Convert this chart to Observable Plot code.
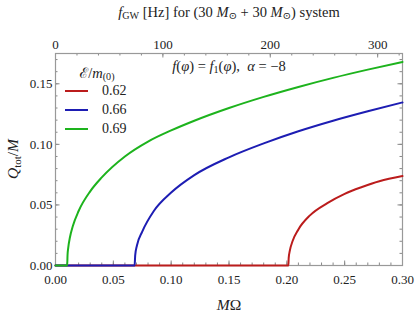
<!DOCTYPE html>
<html>
<head>
<meta charset="utf-8">
<script src="https://cdn.jsdelivr.net/npm/d3@7"></script>
<script src="https://cdn.jsdelivr.net/npm/@observablehq/plot@0.6"></script>
<style>
  body { margin: 0; background: #fff; }
  #wrap { position: relative; width: 415px; height: 320px; font-family: "Liberation Serif", "Times New Roman", Tinos, "DejaVu Serif", "Noto Serif", serif; color: #222; }
  #wrap svg { position: absolute; left: 0; top: 0; }
  .ov { position: absolute; white-space: nowrap; line-height: 1; }
  .c { transform: translate(-50%, -50%); }
  .i { font-style: italic; }
  sub { font-size: 70%; vertical-align: -0.25em; line-height: 0; }
  .sw { position: absolute; width: 23px; height: 0; border-top: 2px solid; }
</style>
</head>
<body>
<div id="wrap"></div>
<script>
// ---- data ----
const seriesLabels = ["0.62", "0.66", "0.69"];          // E/m_(0)
const seriesColors = ["#bb1c1c", "#1d1db3", "#1db31d"];

const x062 = [0, 0.2013, 0.2016, 0.2025, 0.205, 0.21, 0.22, 0.235, 0.25, 0.265, 0.28, 0.30];
const q062 = [0, 0, 0.0061, 0.0118, 0.0202, 0.0298, 0.0414, 0.0515, 0.0592, 0.0648, 0.0695, 0.0738];

const x066 = [0, 0.0684, 0.0689, 0.0704, 0.075, 0.085, 0.10, 0.12, 0.15, 0.18, 0.21, 0.24, 0.27, 0.30];
const q066 = [0, 0, 0.0084, 0.0165, 0.028, 0.045, 0.0602, 0.0746, 0.0893, 0.1008, 0.1108, 0.1195, 0.1273, 0.1346];

const x069 = [0, 0.0101, 0.0104, 0.0110, 0.0125, 0.015, 0.02, 0.03, 0.04, 0.06, 0.08, 0.10, 0.12, 0.15, 0.18, 0.21, 0.24, 0.27, 0.30];
const q069 = [0, 0, 0.0085, 0.0146, 0.0233, 0.0326, 0.045, 0.0612, 0.0727, 0.090, 0.1023, 0.1115, 0.1195, 0.1300, 0.1392, 0.1474, 0.1549, 0.1617, 0.168];

const xTicks = [0, 0.05, 0.10, 0.15, 0.20, 0.25, 0.30];
const yTicks = [0, 0.05, 0.10, 0.15];
const hzTicks = [0, 100, 200, 300];

// f_GW = M*Omega / (pi * M), M = 60 solar masses (in seconds)
const HZ_PER_MOMEGA = 1 / (Math.PI * 60 * 4.925491e-6);

// ---- build ----
const xs = [x062, x066, x069], qs = [q062, q066, q069];
const series = seriesLabels.map((s, k) => xs[k].map((x, i) => ({s, x, q: qs[k][i]})));

const W = 415, H = 320, mL = 55, mR = 13, mT = 53, mB = 55;
const fh = H - mT - mB, fw = W - mL - mR;
const xMinor = d3.range(0, 0.3001, 0.01);
const yMinor = d3.range(0, 0.1751, 0.01);
const hzMinor = d3.range(0, 321, 20).map(h => h / HZ_PER_MOMEGA);
const tickCol = "#888";
const FONT = "'Liberation Serif', 'Times New Roman', Tinos, 'DejaVu Serif', 'Noto Serif', serif";

const marks = [
  Plot.ruleX(xMinor, {x: d => d, insetTop: fh - 2.5, stroke: tickCol}),
  Plot.ruleX(xTicks, {x: d => d, insetTop: fh - 4.5, stroke: tickCol}),
  Plot.ruleX(hzMinor, {x: d => d, insetBottom: fh - 2.5, stroke: tickCol}),
  Plot.ruleX(hzTicks.map(h => h / HZ_PER_MOMEGA), {x: d => d, insetBottom: fh - 4.5, stroke: tickCol}),
  Plot.ruleY(yMinor, {y: d => d, insetRight: fw - 2.5, stroke: tickCol}),
  Plot.ruleY(yTicks, {y: d => d, insetRight: fw - 4.5, stroke: tickCol}),
  Plot.ruleY(yMinor, {y: d => d, insetLeft: fw - 2.5, stroke: tickCol}),
  Plot.ruleY(yTicks, {y: d => d, insetLeft: fw - 4.5, stroke: tickCol}),
  Plot.frame({stroke: "#999", strokeWidth: 1.2}),
  Plot.axisX({ticks: xTicks, tickSize: 0, tickPadding: 9, tickFormat: d3.format(".2f"), label: null, fontSize: 13, fontFamily: FONT}),
  Plot.axisX({anchor: "top", ticks: hzTicks.map(h => h / HZ_PER_MOMEGA), tickSize: 0, tickPadding: 5,
              tickFormat: (d) => String(Math.round(d * HZ_PER_MOMEGA)), label: null, fontSize: 13, fontFamily: FONT}),
  Plot.axisY({ticks: yTicks, tickSize: 0, tickPadding: 3, tickFormat: d3.format(".2f"), label: null, fontSize: 13, fontFamily: FONT}),
];
series.forEach((rows, k) => {
  marks.push(Plot.line(rows, {x: "x", y: "q", stroke: seriesColors[k], strokeWidth: 2, curve: "monotone-x"}));
});

const chart = Plot.plot({
  width: W, height: H,
  marginLeft: mL, marginRight: mR, marginTop: mT, marginBottom: mB,
  style: {fontFamily: FONT, fontSize: "13px", color: "#222", background: "white"},
  x: {domain: [0, 0.3]},
  y: {domain: [0, 0.175]},
  marks
});

const wrap = document.getElementById("wrap");
wrap.appendChild(chart);

function ov(html, style, cls = "ov") {
  const d = document.createElement("div");
  d.className = cls;
  d.innerHTML = html;
  Object.assign(d.style, style);
  wrap.appendChild(d);
  return d;
}
ov('<span class="i">f</span><sub>GW</sub> [Hz] for (30 <span class="i">M</span><sub>⊙</sub> + 30 <span class="i">M</span><sub>⊙</sub>) system',
   {left: "229px", top: "12px", fontSize: "14.5px"}, "ov c");
ov('<span class="i">f</span>(<span class="i">φ</span>) = <span class="i">f</span><sub>1</sub>(<span class="i">φ</span>),&nbsp; <span class="i">α</span> = −8',
   {left: "229px", top: "66px", fontSize: "14.5px"}, "ov c");
ov('ℰ/<span class="i">m</span><sub>(0)</sub>', {left: "97px", top: "73px", fontSize: "14.5px"}, "ov c");
seriesLabels.forEach((s, k) => {
  const y = 91 + k * 19.2;
  ov('', {left: "65px", top: (y - 1) + "px", borderTopColor: seriesColors[k]}, "sw");
  ov(s, {left: "102px", top: (y - 7) + "px", fontSize: "14px"});
});
ov('<span class="i">M</span>Ω', {left: "229px", top: "305px", fontSize: "15.5px"}, "ov c");
ov('<span class="i">Q</span><sub>tot</sub>/<span class="i">M</span>',
   {left: "13px", top: "159px", fontSize: "15.5px", transform: "translate(-50%,-50%) rotate(-90deg)"});
</script>
</body>
</html>
